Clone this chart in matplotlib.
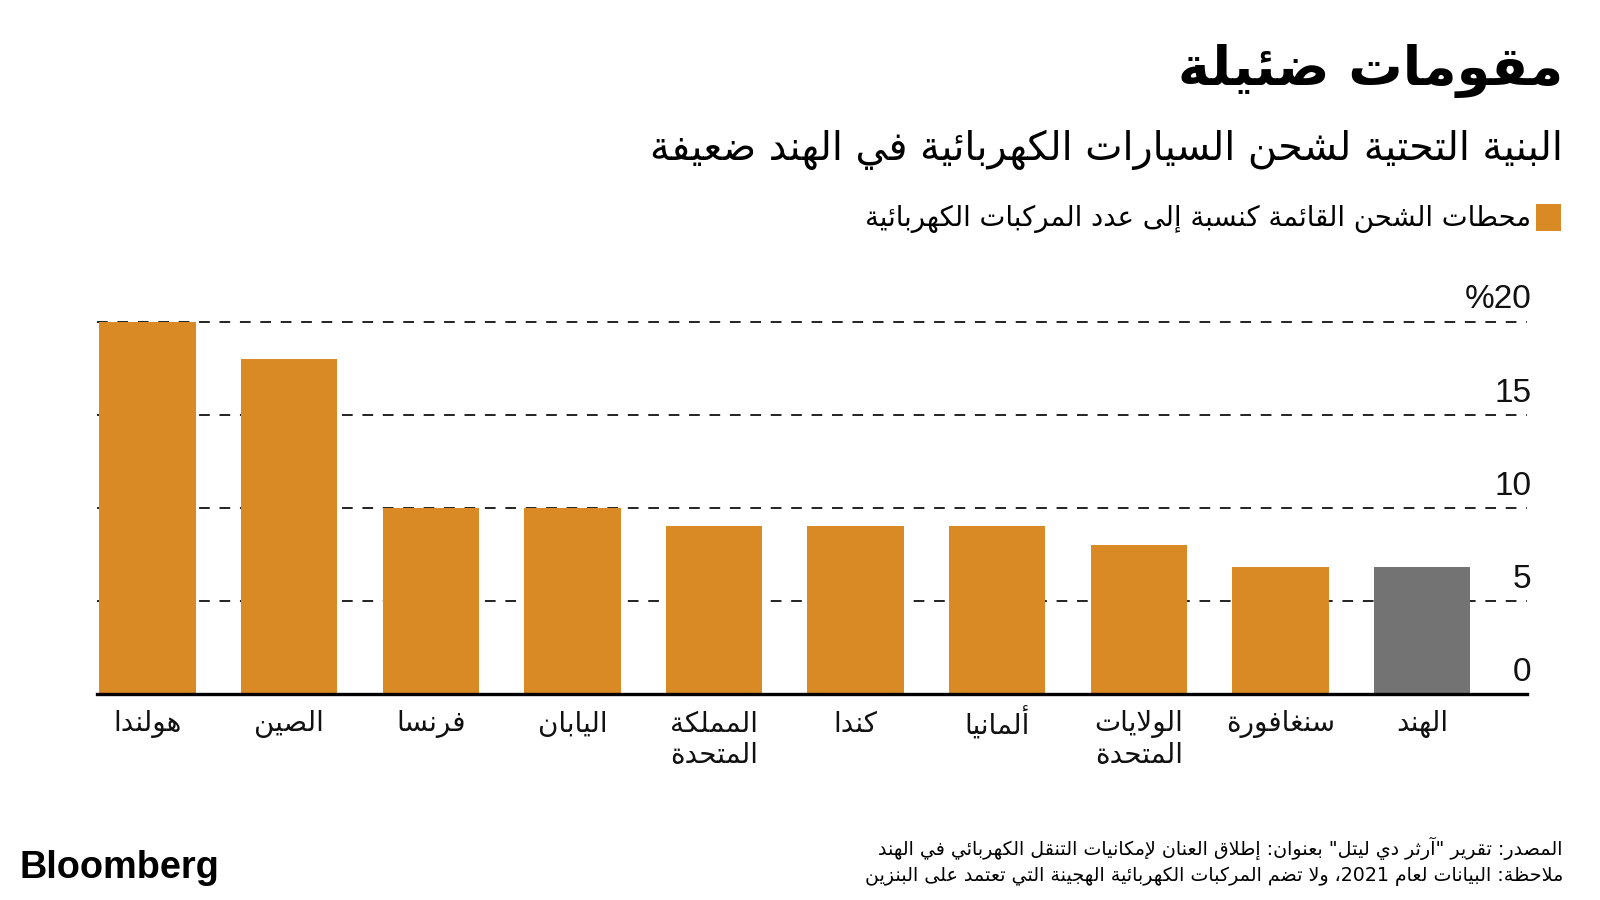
import re
import matplotlib
matplotlib.use("Agg")
import matplotlib.pyplot as plt
from matplotlib.patches import Rectangle
import matplotlib.transforms as mtransforms

# ---------------- data (listed right-to-left, as in the chart) ----------------
categories = [["الهند"], ["سنغافورة"], ["الولايات", "المتحدة"], ["ألمانيا"], ["كندا"],
              ["المملكة", "المتحدة"], ["اليابان"], ["فرنسا"], ["الصين"], ["هولندا"]]
values = [6.8, 6.8, 8.0, 9.0, 9.0, 9.0, 10.0, 10.0, 18.0, 20.0]
highlight = [True] + [False] * 9
yticks = [0, 5, 10, 15, 20]
ytick_labels = ["0", "5", "10", "15", "%20"]

title = "مقومات ضئيلة"
subtitle = "البنية التحتية لشحن السيارات الكهربائية في الهند ضعيفة"
legend_label = "محطات الشحن القائمة كنسبة إلى عدد المركبات الكهربائية"
source_lines = ["المصدر: تقرير \"آرثر دي ليتل\" بعنوان: إطلاق العنان لإمكانيات التنقل الكهربائي في الهند",
                "ملاحظة: البيانات لعام 2021، ولا تضم المركبات الكهربائية الهجينة التي تعتمد على البنزين"]

ORANGE = "#DA8A25"
GRAY = "#737373"

# ---------------- minimal Arabic shaping + visual ordering ----------------
DUAL = dict(zip("ئبتثجحخسشصضطظعغفقكلمنهي",
                [0xFE89, 0xFE8F, 0xFE95, 0xFE99, 0xFE9D, 0xFEA1, 0xFEA5, 0xFEB1, 0xFEB5,
                 0xFEB9, 0xFEBD, 0xFEC1, 0xFEC5, 0xFEC9, 0xFECD, 0xFED1, 0xFED5, 0xFED9,
                 0xFEDD, 0xFEE1, 0xFEE5, 0xFEE9, 0xFEF1]))
RIGHT = dict(zip("آأؤإاةدذرزوى",
                 [0xFE81, 0xFE83, 0xFE85, 0xFE87, 0xFE8D, 0xFE93, 0xFEA9, 0xFEAB, 0xFEAD,
                  0xFEAF, 0xFEED, 0xFEEF]))
LAMALEF = {"آ": 0xFEF5, "أ": 0xFEF7, "إ": 0xFEF9, "ا": 0xFEFB}
NONJOIN = {"ء": 0xFE80}


def _joinable(tok):
    return isinstance(tok, tuple) or tok in DUAL or tok in RIGHT


def shape(s):
    toks, i = [], 0
    while i < len(s):
        c = s[i]
        if c == "ل" and i + 1 < len(s) and s[i + 1] in LAMALEF:
            toks.append(("LA", s[i + 1]))
            i += 2
        else:
            toks.append(c)
            i += 1
    out = []
    for k, tok in enumerate(toks):
        prev = toks[k - 1] if k > 0 else None
        nxt = toks[k + 1] if k + 1 < len(toks) else None
        jp = isinstance(prev, str) and prev in DUAL and _joinable(tok)
        if isinstance(tok, tuple):
            out.append(chr(LAMALEF[tok[1]] + (1 if jp else 0)))
        elif tok in DUAL:
            jn = nxt is not None and _joinable(nxt)
            off = 3 if (jp and jn) else 2 if jn else 1 if jp else 0
            out.append(chr(DUAL[tok] + off))
        elif tok in RIGHT:
            out.append(chr(RIGHT[tok] + (1 if jp else 0)))
        elif tok in NONJOIN:
            out.append(chr(NONJOIN[tok]))
        else:
            out.append(tok)
    return "".join(out)


def ar(s):
    rev = shape(s)[::-1]
    return re.sub(r"[0-9A-Za-z.%]+", lambda m: m.group(0)[::-1], rev)


AR_FONT = ["DejaVu Sans"]
NUM_FONT = ["Liberation Sans", "DejaVu Sans"]

# ---------------- figure ----------------
W, H = 1600, 900
fig = plt.figure(figsize=(16, 9), dpi=100)
fig.patch.set_facecolor("white")


def fx(x):
    return x / W


def fy(y):
    return 1 - y / H


# axes geometry (pixels)
ax_left, ax_right = 97, 1527
y0_px, y20_px = 694, 321.5
unit = (y0_px - y20_px) / 20
ymax = 22
ax_top = y0_px - ymax * unit
ax = fig.add_axes([fx(ax_left), fy(y0_px), (ax_right - ax_left) / W, (y0_px - ax_top) / H])
ax.set_ylim(0, ymax)
n = len(values)
step = 141.6
x_india = 1422
left_idx = (x_india - ax_left) / step
right_idx = -(ax_right - x_india) / step
ax.set_xlim(left_idx, right_idx)
for s in ax.spines.values():
    s.set_visible(False)
ax.set_xticks([])
ax.set_yticks([])
ax.patch.set_alpha(0)

# gridlines
for t in yticks[1:]:
    ax.axhline(t, color="#222222", lw=1.4, dashes=(5.5, 5.0), zorder=1)

# bars
xs = list(range(n))
colors = [GRAY if h else ORANGE for h in highlight]
ax.bar(xs, values, width=0.68, color=colors, zorder=2, clip_on=False)

# baseline
ax.axhline(0, color="black", lw=2.4, zorder=3, clip_on=False)

# y tick labels (right side, above gridlines)
trans = mtransforms.blended_transform_factory(ax.transAxes, ax.transData)
for t, lab in zip(yticks, ytick_labels):
    ax.text(1.003, t + 0.70, lab, transform=trans, ha="right", va="baseline",
            fontsize=24, family=NUM_FONT, color="#111111")

# category labels
for x, lines in zip(xs, categories):
    for j, line in enumerate(lines):
        ypx = 724 + j * 31
        xpx = ax.transData.transform((x, 0))[0]
        fig.text(xpx / W, fy(ypx), ar(line), ha="center", va="center",
                 fontsize=20, family=AR_FONT, color="#111111")

# title & subtitle
fig.text(fx(1563), fy(71), ar(title), ha="right", va="center",
         fontsize=39, fontweight="bold", family=AR_FONT, color="black")
fig.text(fx(1563), fy(150), ar(subtitle), ha="right", va="center",
         fontsize=28.5, family=AR_FONT, color="black")

# legend
fig.patches.append(Rectangle((fx(1536), fy(231)), 25 / W, 27 / H, transform=fig.transFigure,
                             facecolor=ORANGE, edgecolor="none"))
fig.text(fx(1531), fy(219), ar(legend_label), ha="right", va="center",
         fontsize=19.8, family=AR_FONT, color="black")

# source / note
for j, line in enumerate(source_lines):
    fig.text(fx(1563), fy(848 + j * 28), ar(line), ha="right", va="center",
             fontsize=13.7, family=AR_FONT, color="black")

# Bloomberg wordmark
fig.text(fx(20), fy(868), "Bloomberg", ha="left", va="center",
         fontsize=27.3, fontweight="bold", family=NUM_FONT, color="black")

fig.savefig("out.png", dpi=100, facecolor="white")
